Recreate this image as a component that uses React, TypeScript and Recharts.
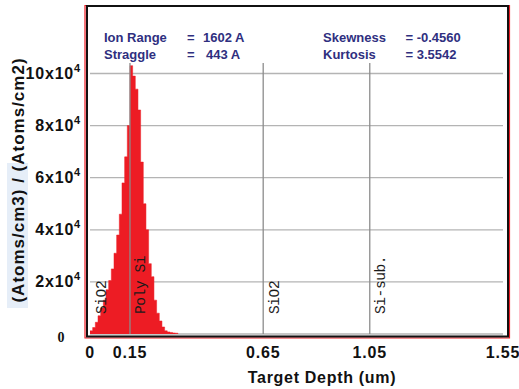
import React from 'react';
import {
  ComposedChart,
  Area,
  XAxis,
  YAxis,
  CartesianGrid,
  ReferenceLine,
  ReferenceArea,
  Customized,
} from 'recharts';

// Implant profile histogram: start of each depth bin (um) and its concentration.
const binStart = [
  0, 0.01, 0.02, 0.03, 0.04, 0.05, 0.06, 0.07, 0.08, 0.09,
  0.1, 0.11, 0.12, 0.13, 0.14, 0.15, 0.16, 0.17, 0.18, 0.19,
  0.2, 0.21, 0.22, 0.23, 0.24, 0.25, 0.26, 0.27, 0.28, 0.29,
  0.3, 0.31, 0.32, 0.33,
];
const concentration = [
  1200, 2500, 4500, 7000, 10000, 13000, 17000, 20500, 25000, 31000,
  38000, 46000, 58000, 68000, 80000, 103000, 99000, 94000, 86000, 66000,
  50000, 40000, 27000, 22000, 13000, 8000, 5000, 2700, 1200, 800,
  600, 400, 300, 0,
];

const xTicks = [0, 0.15, 0.65, 1.05, 1.55];
const yTicks = [0, 20000, 40000, 60000, 80000, 100000];

// Layer stack: interface depths (um) and the layer name below each one.
const layerBounds = [0, 0.15, 0.65, 1.05];
const layerNames = ['SiO2', 'Poly Si', 'SiO2', 'Si-sub.'];

const statNames = ['Ion Range', 'Straggle', 'Skewness', 'Kurtosis'];
const statValues = ['1602 A', '443 A', '-0.4560', '3.5542'];

const profile = binStart.map((d, i) => ({ depth: d, conc: concentration[i] }));

const X_DOMAIN: [number, number] = [-0.0113, 1.5688];
const Y_DOMAIN: [number, number] = [-960, 125912];
const LINE_TOP = 104000;

const SANS = "'Liberation Sans', Arial, sans-serif";
const NAVY = '#2f2f7f';
const RED = '#ed1c24';

const XTick = (props: any) => {
  const { x, y, payload } = props;
  return (
    <text
      x={x}
      y={y + 21}
      textAnchor="middle"
      fontFamily={SANS}
      fontWeight="bold"
      fontSize={16}
      letterSpacing={0.8}
      fill="#111"
    >
      {String(payload.value)}
    </text>
  );
};

const YTick = (props: any) => {
  const { x, y, payload } = props;
  const v = payload.value as number;
  if (v === 0) {
    return (
      <text
        x={x - 20}
        y={y + 8}
        textAnchor="middle"
        fontFamily="'Liberation Serif', serif"
        fontWeight="bold"
        fontSize={14}
        fill="#111"
      >
        0
      </text>
    );
  }
  return (
    <text
      x={x}
      y={y + 5}
      textAnchor="end"
      fontFamily={SANS}
      fontWeight="bold"
      fontSize={16}
      letterSpacing={0.8}
      fill="#111"
    >
      {`${v / 10000}x10`}
      <tspan dy={-7} fontSize={11}>
        4
      </tspan>
    </text>
  );
};

const LayerLabel = (props: any) => {
  const { viewBox, text } = props;
  if (!viewBox) return null;
  const cx = viewBox.x + 11.5;
  const by = viewBox.y + viewBox.height - 20;
  return (
    <text
      transform={`translate(${cx},${by}) rotate(-90)`}
      dominantBaseline="central"
      fontFamily="'Liberation Mono', 'DejaVu Sans Mono', monospace"
      fontSize={14.5}
      letterSpacing={-0.4}
      fill="#1a1a1a"
    >
      {text}
    </text>
  );
};

const Annotations = () => (
  <g>
    {/* axis titles */}
    <rect x={7} y={163} width={21} height={145} fill="#e6eef8" />
    <text
      transform="translate(18,180) rotate(-90)"
      textAnchor="middle"
      dominantBaseline="central"
      fontFamily={SANS}
      fontWeight="bold"
      fontSize={17}
      letterSpacing={1}
      fill="#111"
    >
      (Atoms/cm3) / (Atoms/cm2)
    </text>
    <text
      x={322}
      y={383}
      textAnchor="middle"
      fontFamily={SANS}
      fontWeight="bold"
      fontSize={16}
      letterSpacing={0.7}
      fill="#111"
    >
      Target Depth (um)
    </text>
    {/* range statistics */}
    <g fontFamily={SANS} fontWeight="bold" fontSize={13} fill={NAVY}>
      <text x={104} y={42}>{statNames[0]}</text>
      <text x={187} y={42}>=</text>
      <text x={203} y={42}>{statValues[0]}</text>
      <text x={104} y={58.5}>{statNames[1]}</text>
      <text x={187} y={58.5}>=</text>
      <text x={206} y={58.5}>{statValues[1]}</text>
      <text x={323} y={42}>{statNames[2]}</text>
      <text x={405.5} y={42}>{`= ${statValues[2]}`}</text>
      <text x={323} y={58.5}>{statNames[3]}</text>
      <text x={405.5} y={58.5}>{`= ${statValues[3]}`}</text>
    </g>
  </g>
);

export default function App() {
  return (
    <div style={{ position: 'absolute', left: 0, top: 0, background: '#fff' }}>
      <ComposedChart
        width={519}
        height={389}
        data={profile}
        margin={{ top: 6, right: 11, bottom: 0.5, left: 7 }}
      >
        <CartesianGrid
          x={90}
          width={413}
          vertical={false}
          stroke="#b4b4b4"
          strokeWidth={1.3}
        />
        <XAxis
          dataKey="depth"
          type="number"
          domain={X_DOMAIN}
          ticks={xTicks}
          allowDataOverflow
          axisLine={false}
          tickLine={false}
          tickSize={0}
          tickMargin={0}
          height={52}
          tick={<XTick />}
          interval={0}
        />
        <YAxis
          type="number"
          domain={Y_DOMAIN}
          ticks={yTicks}
          allowDataOverflow
          axisLine={false}
          tickLine={false}
          tickSize={0}
          tickMargin={6}
          width={80}
          tick={<YTick />}
          interval={0}
        />
        <Area
          dataKey="conc"
          type="stepAfter"
          baseValue={0}
          fill={RED}
          fillOpacity={1}
          stroke={RED}
          strokeWidth={0.5}
          isAnimationActive={false}
          dot={false}
          activeDot={false}
        />
        {layerBounds.map((b, i) => (
          <ReferenceLine
            key={`layer-${i}`}
            segment={[
              { x: b, y: 0 },
              { x: b, y: LINE_TOP },
            ]}
            stroke={b === 0 ? 'none' : '#8c8c8c'}
            strokeWidth={1.3}
            ifOverflow="visible"
            label={<LayerLabel text={layerNames[i]} />}
          />
        ))}
        {/* outer red frame, then the black plot frame */}
        <ReferenceArea
          x1={-0.0188}
          x2={1.5744}
          y1={-1540}
          y2={126100}
          fill="none"
          stroke={RED}
          strokeWidth={1.2}
          ifOverflow="visible"
        />
        <ReferenceArea
          x1={X_DOMAIN[0]}
          x2={X_DOMAIN[1]}
          y1={Y_DOMAIN[0]}
          y2={Y_DOMAIN[1]}
          fill="none"
          stroke="#111"
          strokeWidth={2}
          ifOverflow="visible"
        />
        <Customized component={<Annotations />} />
      </ComposedChart>
    </div>
  );
}
